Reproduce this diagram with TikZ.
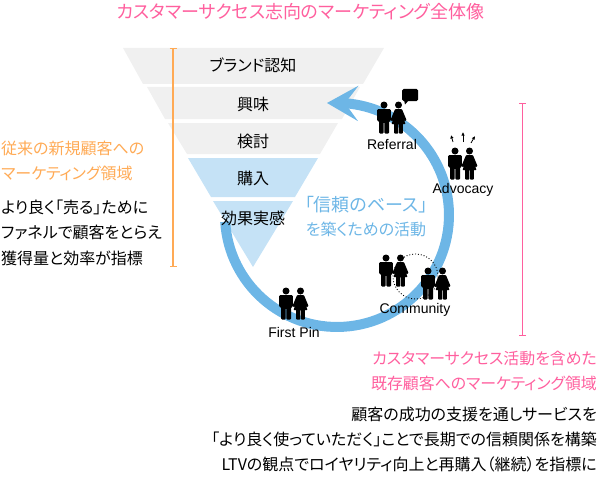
\documentclass[tikz,border=0pt]{standalone}
\usepackage{fontspec}
\setmainfont[RawFeature=+palt]{Noto Sans CJK JP}
\newfontfamily\labelfont{Liberation Sans}
\usetikzlibrary{arrows.meta}
\definecolor{bandgrey}{HTML}{F0F0F0}
\definecolor{bandblue}{HTML}{C5E2F6}
\definecolor{ringblue}{HTML}{6DB6E6}
\definecolor{barorange}{HTML}{FFAA55}
\definecolor{barpink}{HTML}{FF5F9E}
\tikzset{
  couple/.pic={
    % man
    \fill (0,0) circle (3.5);
    \fill[rounded corners=1pt] (-6.8,-4.2) -- (6.8,-4.2) -- (6.8,-16) -- (5,-16) -- (5,-28.5)
      -- (0.4,-28.5) -- (0.4,-17) -- (-0.4,-17) -- (-0.4,-28.5) -- (-5,-28.5) -- (-5,-16) -- (-6.8,-16) -- cycle;
    % woman
    \fill (14.5,0) circle (3.5);
    \fill[rounded corners=.6pt] (11,-4.2) -- (18,-4.2) -- (22.5,-15) -- (20.8,-16.2) -- (18.6,-11) -- (21.5,-19)
      -- (18.8,-19) -- (18.8,-28.5) -- (14.9,-28.5) -- (14.9,-19) -- (14.1,-19) -- (14.1,-28.5)
      -- (10.2,-28.5) -- (10.2,-19) -- (7.5,-19) -- (10.4,-11) -- (8.2,-16.2) -- (6.5,-15) -- cycle;
  }
}
\begin{document}
\begin{tikzpicture}[
  x=1pt, y=1pt,
  bandlabel/.style = {font=\fontsize{16}{18}\selectfont, text=black, inner sep=0pt},
  personlabel/.style = {font=\labelfont\fontsize{14}{15}\selectfont, text=black, inner sep=0pt},
  leftblock/.style = {anchor=north west, align=left, inner sep=0pt},
  rightblock/.style = {anchor=north east, align=right, inner sep=0pt},
  rangebar/.style = {line width=1.3pt, {Bar[width=7pt]}-{Bar[width=7pt]}},
  ringline/.style = {ringblue, line width=10pt, -{Stealth[length=31pt,width=35pt,inset=13pt]}},
  ringtext/.style = {text=ringblue, inner sep=0pt}
  ]
  \useasboundingbox (0,0) rectangle (600,-487);

  \node[inner sep=0pt, text=barpink, font=\fontsize{18}{20}\selectfont] (title) at (300.5,-12) {カスタマーサクセス志向のマーケティング全体像};

  % funnel
  \fill[bandgrey] (123,-48) -- (384,-48) -- (363,-84) -- (143,-84) -- cycle;
  \fill[bandgrey] (147,-87) -- (360,-87) -- (342,-119) -- (165,-119) -- cycle;
  \fill[bandgrey] (168,-123) -- (338,-123) -- (320,-154) -- (187,-154) -- cycle;
  \fill[bandblue] (188,-158) -- (318,-158) -- (295,-197) -- (211,-197) -- cycle;
  \fill[bandblue] (213,-201) -- (293,-201) -- (253,-267) -- cycle;

  % ranges
  \coordinate (oldtop) at (173,-48);
  \coordinate (oldbottom) at (173,-267);
  \coordinate (newtop) at (522.5,-102.5);
  \coordinate (newbottom) at (522.5,-336);
  \draw[rangebar, barorange] (oldtop) -- (oldbottom);
  \draw[rangebar, barpink] (newtop) -- (newbottom);

  % ring
  \coordinate (ringstart) at (225.2,-221.8);
  \coordinate (ringtip) at (327,-103);
  \draw[ringline] (ringstart) arc[start angle=183.5, end angle=446, radius=112] -- (ringtip);

  \node[bandlabel] (brand) at (253,-65) {ブランド認知};
  \node[bandlabel] (interest) at (253,-104) {興味};
  \node[bandlabel] (consider) at (253,-141) {検討};
  \node[bandlabel] (purchase) at (253,-178) {購入};
  \node[bandlabel] (effect) at (253,-218) {効果実感};

  \node[ringtext, font=\fontsize{18}{20}\selectfont] (trust) at (366,-205) {「信頼のベース」};
  \node[ringtext, font=\fontsize{16}{18}\selectfont] (build) at (366,-229) {を築くための活動};

  % people
  \foreach \px/\py in {286/-291, 384/-105, 455/-151, 386/-258, 428/-271}
    \pic at (\px,\py) {couple};

  \draw[dotted, line width=.9pt] (415.5,-276.5) circle (22.5);

  \fill[rounded corners=1.5pt] (402,-89) rectangle (418,-101);
  \fill (404,-100) -- (409,-100) -- (405,-104.5) -- cycle;

  \coordinate (leftfrom) at (453,-142);
  \coordinate (leftto) at (451,-135);
  \coordinate (midfrom) at (463,-142);
  \coordinate (midto) at (463,-132);
  \coordinate (rightfrom) at (471,-143);
  \coordinate (rightto) at (475,-136);
  \foreach \pa/\pb in {leftfrom/leftto, midfrom/midto, rightfrom/rightto}
    \draw[line width=.8pt, -{Latex[length=3.5pt,width=3.5pt]}] (\pa) -- (\pb);

  \node[personlabel] (firstpin) at (294,-332) {First Pin};
  \node[personlabel] (referral) at (392,-144) {Referral};
  \node[personlabel] (advocacy) at (463,-190) {Advocacy};
  \node[personlabel] (community) at (415,-310) {Community};

  % left text
  \node[leftblock, text=barorange, font=\fontsize{16}{24.5}\selectfont] (oldarea) at (1,-141) {従来の新規顧客への\\マーケティング領域};
  \node[leftblock, font=\fontsize{16}{25.5}\selectfont] (oldnote) at (1,-199.5) {より良く「売る」ために\\ファネルで顧客をとらえ\\獲得量と効率が指標};

  % right text
  \node[rightblock, text=barpink, font=\fontsize{15.9}{24.5}\selectfont] (newarea) at (597,-351) {カスタマーサクセス活動を含めた\\既存顧客へのマーケティング領域};
  \node[rightblock, font=\fontsize{16}{25}\selectfont] (newnote) at (597,-407) {顧客の成功の支援を通しサービスを\\「より良く使っていただく」ことで長期での信頼関係を構築\\LTVの観点でロイヤリティ向上と再購入（継続）を指標に};
\end{tikzpicture}
\end{document}
